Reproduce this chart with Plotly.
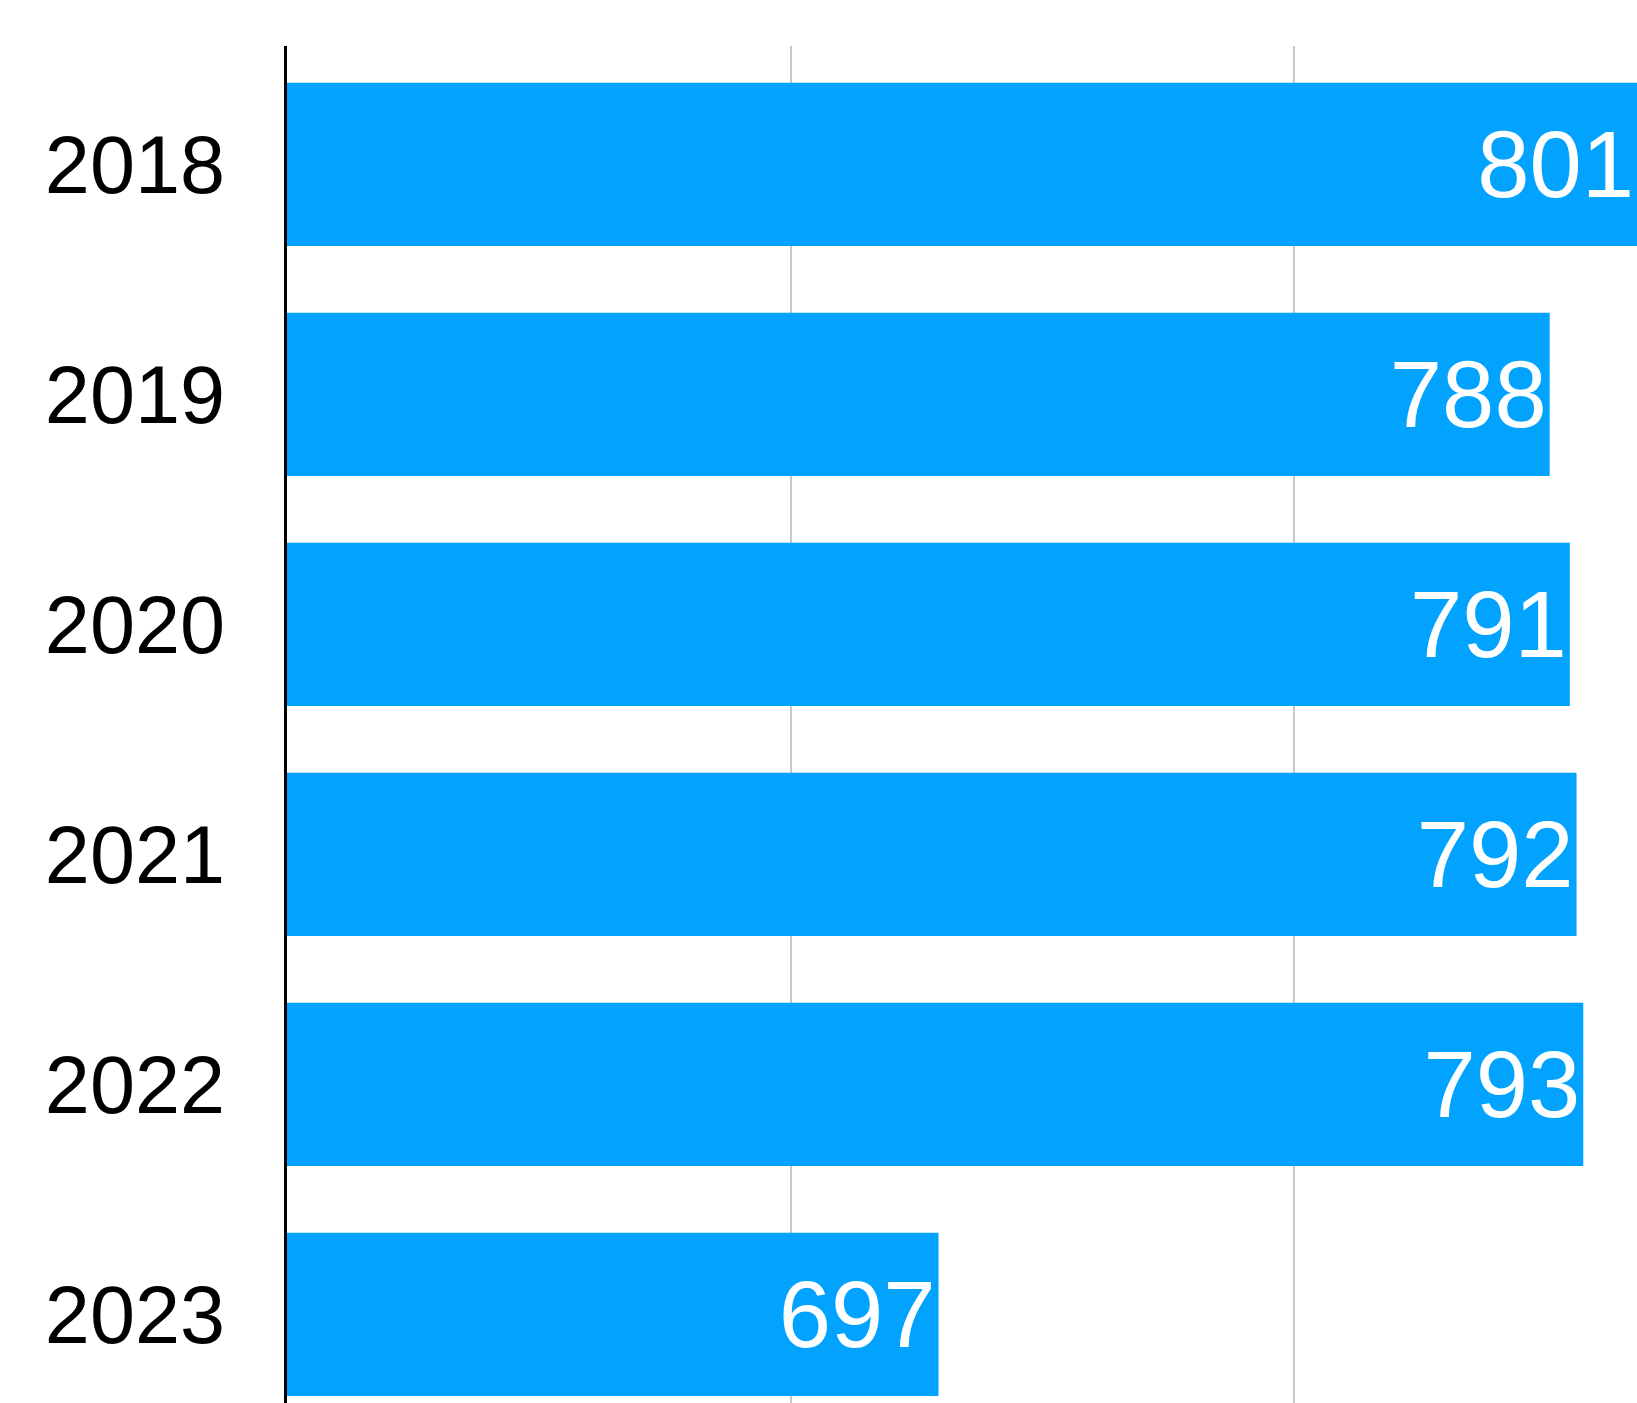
import plotly.graph_objects as go

years = ["2018", "2019", "2020", "2021", "2022", "2023"]
values = [801, 788, 791, 792, 793, 697]
axis_start = 600

fig = go.Figure(go.Bar(
    y=years,
    x=[v - axis_start for v in values],
    base=axis_start,
    orientation="h",
    marker=dict(color="#02A3FE", line=dict(width=0)),
    text=[str(v) for v in values],
    textposition="inside",
    insidetextanchor="end",
    textfont=dict(color="white", size=94, family="Liberation Sans, Arial, sans-serif"),
))

fig.update_layout(
    width=1637, height=1403,
    margin=dict(l=287, r=0, t=46, b=0),
    paper_bgcolor="white", plot_bgcolor="white",
    bargap=0.29,
    showlegend=False,
    font=dict(family="Liberation Sans, Arial, sans-serif"),
)
fig.update_xaxes(
    range=[600, 801], tick0=600, dtick=75,
    showticklabels=False, showgrid=True, gridcolor="#c8c8c8", gridwidth=2,
    zeroline=False, showline=False,
)
fig.update_yaxes(
    type="category", categoryorder="array", categoryarray=years,
    range=[5.385, -0.515],
    showline=True, linecolor="black", linewidth=2.5,
    showgrid=False, ticks="", ticklabelstandoff=43,
    tickfont=dict(size=81, color="black", family="Liberation Sans, Arial, sans-serif"),
)
fig.write_html(
    "out.html",
    config={"displayModeBar": False},
    post_script="document.body.style.margin='0';document.body.style.overflow='hidden';",
)
